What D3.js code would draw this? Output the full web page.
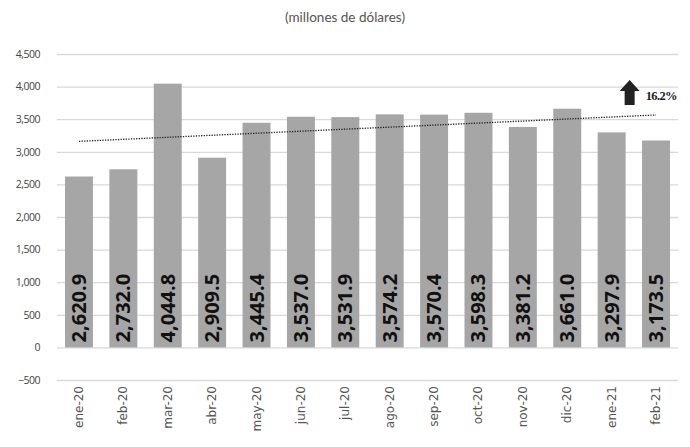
<!DOCTYPE html>
<html>
<head>
<meta charset="utf-8">
<script src="https://cdn.jsdelivr.net/npm/d3@7"></script>
<style>
  body { margin: 0; background: white; }
  svg { display: block; }
</style>
</head>
<body>
<svg width="690" height="447"></svg>
<script>
// data
var months = ["ene-20", "feb-20", "mar-20", "abr-20", "may-20", "jun-20", "jul-20",
              "ago-20", "sep-20", "oct-20", "nov-20", "dic-20", "ene-21", "feb-21"];
var values = [2620.9, 2732.0, 4044.8, 2909.5, 3445.4, 3537.0, 3531.9,
              3574.2, 3570.4, 3598.3, 3381.2, 3661.0, 3297.9, 3173.5];
var yTicks = [-500, 0, 500, 1000, 1500, 2000, 2500, 3000, 3500, 4000, 4500];
var growthLabel = "16.2%";

var svg = d3.select("svg"),
    width = +svg.attr("width"),
    height = +svg.attr("height");

var margin = {left: 57, right: 12, top: 54, bottom: 68};

var x = d3.scaleBand()
    .domain(months)
    .range([margin.left, width - margin.right])
    .paddingInner(0.37)
    .paddingOuter(0.18);

var y = d3.scaleLinear()
    .domain([-500, 4500])
    .range([height - margin.bottom + 1, margin.top]);

// title
svg.append("text")
    .attr("x", 345)
    .attr("y", 22)
    .attr("text-anchor", "middle")
    .style("font-family", "Lato, 'DejaVu Sans', sans-serif")
    .style("font-size", "13.5px")
    .style("fill", "#555")
    .text("(millones de dólares)");

// gridlines + y labels
var yAxis = svg.append("g")
    .attr("transform", "translate(" + margin.left + ",0)")
    .call(d3.axisLeft(y)
        .tickValues(yTicks)
        .tickSize(-(width - margin.left - margin.right))
        .tickPadding(17)
        .tickFormat(d3.format(",")));
yAxis.select(".domain").remove();
yAxis.selectAll(".tick line").style("stroke", "#d9d9d9").style("stroke-width", 1.3);
yAxis.selectAll(".tick text")
    .style("font-family", "'Open Sans', sans-serif")
    .style("font-size", "10.5px")
    .style("letter-spacing", "-0.5px")
    .style("fill", "#444");

// bars
svg.append("g")
    .selectAll("rect")
    .data(values)
    .enter()
    .append("rect")
    .attr("x", function(d, i) { return x(months[i]); })
    .attr("width", x.bandwidth())
    .attr("y", function(d) { return y(d); })
    .attr("height", function(d) { return y(0) - y(d); })
    .style("fill", "#a6a6a6");

// value labels
svg.append("g")
    .selectAll("text")
    .data(values)
    .enter()
    .append("text")
    .attr("transform", function(d, i) {
        return "translate(" + (x(months[i]) + x.bandwidth() / 2 + 7) + "," + (y(0) - 5) + ") rotate(-90)";
    })
    .style("font-family", "'Open Sans', sans-serif")
    .style("font-weight", "bold")
    .style("font-size", "20px")
    .style("fill", "#111")
    .text(function(d) { return d3.format(",.1f")(d); });

// linear trend line
var n = values.length;
var mx = d3.mean(values, function(d, i) { return i; }),
    my = d3.mean(values);
var sxy = d3.sum(values, function(d, i) { return (i - mx) * (d - my); }),
    sxx = d3.sum(values, function(d, i) { return (i - mx) * (i - mx); });
var slope = sxy / sxx, icpt = my - slope * mx;

var cx = function(i) { return x(months[i]) + x.bandwidth() / 2; };
svg.append("line")
    .attr("x1", cx(0))
    .attr("y1", y(icpt))
    .attr("x2", cx(n - 1))
    .attr("y2", y(icpt + slope * (n - 1)))
    .style("stroke", "#222")
    .style("stroke-width", 1.3)
    .style("stroke-dasharray", "1.3,1.3");

// up arrow + growth label
var ax = cx(n - 2) + 18, ay = 80;
svg.append("path")
    .attr("d", "M" + ax + "," + ay + " l10,11 h-5 v14 h-10 v-14 h-5 z")
    .style("fill", "#222");
svg.append("text")
    .attr("x", ax + 16)
    .attr("y", 100)
    .style("font-family", "'Liberation Serif', serif")
    .style("font-weight", "bold")
    .style("font-size", "12.5px")
    .style("letter-spacing", "-0.6px")
    .style("fill", "#222")
    .text(growthLabel);

// x labels
svg.append("g")
    .selectAll("text")
    .data(months)
    .enter()
    .append("text")
    .attr("transform", function(d) {
        return "translate(" + (x(d) + x.bandwidth() / 2 + 4) + "," + (y(-500) + 6) + ") rotate(-90)";
    })
    .attr("text-anchor", "end")
    .style("font-family", "'DejaVu Sans', sans-serif")
    .style("font-size", "12px")
    .style("fill", "#555")
    .text(function(d) { return d; });
</script>
</body>
</html>
